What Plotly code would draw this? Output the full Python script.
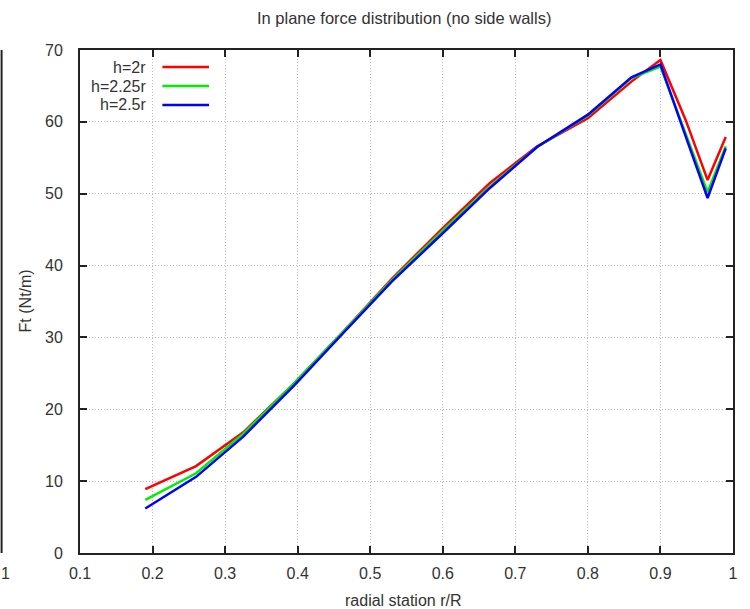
import plotly.graph_objects as go

# ---- data ----
r_R = [0.19, 0.26, 0.325, 0.395, 0.46, 0.53, 0.60, 0.665, 0.73, 0.80, 0.86, 0.90, 0.935, 0.965, 0.99]
ft_h2r = [8.9, 12.1, 16.8, 23.6, 30.5, 38.2, 45.2, 51.5, 56.6, 60.5, 65.6, 68.6, 60.2, 51.9, 57.9]
ft_h225r = [7.4, 11.1, 16.6, 23.6, 30.5, 38.0, 44.9, 51.0, 56.5, 60.9, 66.1, 67.7, 58.3, 50.2, 56.6]
ft_h25r = [6.2, 10.6, 16.2, 23.3, 30.3, 37.8, 44.5, 50.8, 56.5, 61.0, 66.2, 68.0, 57.9, 49.4, 56.3]
series_names = ["h=2r", "h=2.25r", "h=2.5r"]
series_vals = [ft_h2r, ft_h225r, ft_h25r]
colors = ["#ff0000", "#00ee00", "#0000ff"]
x_ticks = [0.1, 0.2, 0.3, 0.4, 0.5, 0.6, 0.7, 0.8, 0.9, 1.0]
x_tick_labels = ["0.1", "0.2", "0.3", "0.4", "0.5", "0.6", "0.7", "0.8", "0.9", "1"]
y_ticks = [0, 10, 20, 30, 40, 50, 60, 70]

W, H = 750, 609
L, R, T, B = 80, 12, 50, 56
PW, PH = W - L - R, H - T - B

def px2x(px):
    return (px - L) / PW

def py2y(py):
    return (H - B - py) / PH

FONT = "Liberation Sans, Arial, sans-serif"
TXT = "#333333"

fig = go.Figure()
for name, vals, c in zip(series_names, series_vals, colors):
    fig.add_trace(go.Scatter(x=r_R, y=vals, mode="lines", name=name,
                             line=dict(color=c, width=2.5), showlegend=False))

axis_common = dict(showline=True, linecolor="#222222", linewidth=2, mirror="ticks",
                   ticks="inside", ticklen=7, tickcolor="#222222", tickwidth=1.5,
                   showgrid=True, gridcolor="#b8b8b8", griddash="1px,2px", gridwidth=1,
                   zeroline=False, tickfont=dict(family=FONT, size=16, color=TXT))

fig.update_xaxes(range=[0.1, 1.0], tickvals=x_ticks, ticktext=x_tick_labels,
                 ticklabelstandoff=5, **axis_common)
fig.update_yaxes(range=[0, 70], tickvals=y_ticks, ticklabelstandoff=12, **axis_common)

annotations = [
    dict(text="In plane force distribution (no side walls)", xref="paper", yref="paper",
         x=px2x(406), y=py2y(18), xanchor="center", yanchor="middle", showarrow=False,
         font=dict(family=FONT, size=16.5, color=TXT)),
    dict(text="radial station r/R", xref="paper", yref="paper",
         x=px2x(406), y=py2y(600), xanchor="center", yanchor="middle", showarrow=False,
         font=dict(family=FONT, size=16, color=TXT)),
    dict(text="Ft (Nt/m)", xref="paper", yref="paper", textangle=-90,
         x=px2x(25), y=py2y(301), xanchor="center", yanchor="middle", showarrow=False,
         font=dict(family=FONT, size=16, color=TXT)),
    dict(text="1", xref="paper", yref="paper",
         x=px2x(5), y=py2y(573), xanchor="center", yanchor="middle", showarrow=False,
         font=dict(family=FONT, size=16, color=TXT)),
]
shapes = [
    dict(type="line", xref="paper", yref="paper", x0=px2x(1), x1=px2x(1),
         y0=py2y(50), y1=py2y(553), line=dict(color="#222222", width=2)),
]
legend_rows = [67, 86, 105]
for name, c, row in zip(series_names, colors, legend_rows):
    annotations.append(dict(text=name, xref="paper", yref="paper", x=px2x(149), y=py2y(row),
                            xanchor="right", yanchor="middle", showarrow=False,
                            font=dict(family=FONT, size=16, color=TXT)))
    shapes.append(dict(type="line", xref="paper", yref="paper", x0=px2x(163), x1=px2x(210),
                       y0=py2y(row), y1=py2y(row), line=dict(color=c, width=2.5)))

fig.update_layout(width=W, height=H, margin=dict(l=L, r=R, t=T, b=B),
                  paper_bgcolor="white", plot_bgcolor="white",
                  annotations=annotations, shapes=shapes)

fig.write_html("out.html", config={"displayModeBar": False},
               post_script="document.body.style.margin='0';document.body.style.padding='0';"
                           "document.body.style.overflow='hidden';")
